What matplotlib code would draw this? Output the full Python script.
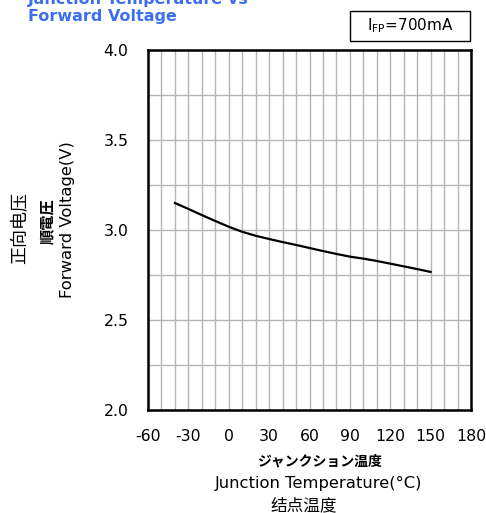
import matplotlib
matplotlib.use("Agg")
import matplotlib.pyplot as plt
from matplotlib.patches import Rectangle

# junction temperature (C) vs forward voltage (V)
temp = [-40, -30, -20, -10, 0, 10, 20, 30, 40, 50, 60, 70, 80, 90, 100, 110, 120, 130, 140, 150]
vf = [3.150, 3.117, 3.083, 3.050, 3.018, 2.990, 2.968, 2.950, 2.933, 2.917,
      2.900, 2.883, 2.867, 2.852, 2.841, 2.828, 2.813, 2.798, 2.783, 2.767]

x_ticks = [-60, -30, 0, 30, 60, 90, 120, 150, 180]
y_ticks = [2.0, 2.5, 3.0, 3.5, 4.0]

plt.rcParams['axes.unicode_minus'] = False
plt.rcParams['font.family'] = ['DejaVu Sans', 'Noto Sans CJK JP']

W, H = 486, 513
fig = plt.figure(figsize=(W / 100, H / 100), dpi=100)
ax = fig.add_axes([148 / W, 1 - 410 / H, (471 - 148) / W, (410 - 50) / H])

# grid: every 10 C and every 0.25 V
for t in range(-50, 180, 10):
  ax.axvline(t, color='#b4b4b4', lw=1.0, zorder=1)
for v in [2.25, 2.5, 2.75, 3.0, 3.25, 3.5, 3.75]:
  ax.axhline(v, color='#b4b4b4', lw=1.0, zorder=1)

ax.plot(temp, vf, color='black', lw=1.6, zorder=3)

ax.set_xlim(-60, 180)
ax.set_ylim(2.0, 4.0)
ax.set_xticks(x_ticks)
ax.set_yticks(y_ticks)
ax.set_xticklabels([str(t) for t in x_ticks], fontsize=11.3)
ax.set_yticklabels(['%.1f' % v for v in y_ticks], fontsize=11.3)
ax.tick_params(length=0, pad=14)
for s in ax.spines.values():
  s.set_linewidth(1.8)
  s.set_zorder(4)

# title (top line cut off by the image edge, as in the original)
blue = '#3b6ff0'
fig.text(28 / W, 1 - 4 / H, 'Junction Temperature vs', color=blue, fontsize=11.5,
         fontweight='bold', va='baseline', ha='left')
fig.text(28 / W, 1 - 21 / H, 'Forward Voltage', color=blue, fontsize=11.5,
         fontweight='bold', va='baseline', ha='left')

# current box
fig.patches.append(Rectangle((350 / W, 1 - 41 / H), 120 / W, 30 / H, transform=fig.transFigure,
                             fill=False, edgecolor='black', lw=1.0))
fig.text(410 / W, 1 - 26 / H, r'I$_{\mathregular{FP}}$=700mA', fontsize=11, ha='center', va='center')

# y label, three languages
fig.text(20 / W, 1 - 228 / H, '正向电压', rotation=90, fontsize=13, ha='center', va='center',
         family=['Noto Sans CJK SC'])
fig.text(47 / W, 1 - 221 / H, '順電圧', rotation=90, fontsize=11, ha='center', va='center',
         family=['Noto Sans CJK JP'], fontweight='bold')
fig.text(67 / W, 1 - 220 / H, 'Forward Voltage(V)', rotation=90, fontsize=11.8, ha='center', va='center')

# x label, three languages
fig.text(319 / W, 1 - 462 / H, 'ジャンクション温度', fontsize=10, ha='center', va='center',
         family=['Noto Sans CJK JP'], fontweight='bold')
fig.text(319 / W, 1 - 483 / H, 'Junction Temperature(°C)', fontsize=11.8, ha='center', va='center')
fig.text(304 / W, 1 - 506 / H, '结点温度', fontsize=12, ha='center', va='center',
         family=['Noto Sans CJK SC'])

fig.savefig('out.png', dpi=100)
